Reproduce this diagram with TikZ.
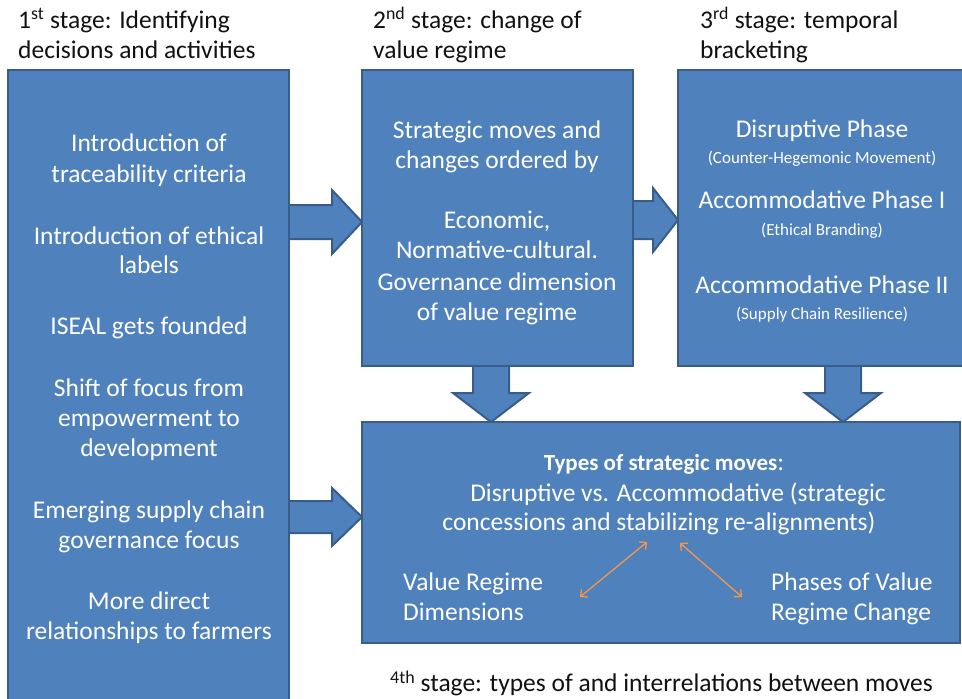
\documentclass[tikz,border=0pt]{standalone}
\usepackage{fontspec}
\setmainfont{Carlito}
\usetikzlibrary{arrows.meta,calc}
\definecolor{panelfill}{HTML}{4F81BD}
\definecolor{panelline}{HTML}{385D8A}
\definecolor{linkorange}{HTML}{F79646}
\definecolor{captiongray}{HTML}{111111}

% horizontal block arrow: start, tip, shaft half-height, head half-height, head length
\newcommand\blockarrowR[5]{%
  \draw[blockarrow] ($(#1)+(0,-#3)$) -- ($(#2)+(-#5,-#3)$) -- ($(#2)+(-#5,-#4)$)
    -- (#2) -- ($(#2)+(-#5,#4)$) -- ($(#2)+(-#5,#3)$) -- ($(#1)+(0,#3)$) -- cycle;}
% vertical block arrow pointing down
\newcommand\blockarrowD[5]{%
  \draw[blockarrow] ($(#1)+(-#3,0)$) -- ($(#2)+(-#3,-#5)$) -- ($(#2)+(-#4,-#5)$)
    -- (#2) -- ($(#2)+(#4,-#5)$) -- ($(#2)+(#3,-#5)$) -- ($(#1)+(#3,0)$) -- cycle;}

\begin{document}
\begin{tikzpicture}[x=1pt,y=-1pt,
  panel/.style={draw=panelline, fill=panelfill, line width=2.4pt, anchor=north west,
    inner sep=0pt, outer sep=0pt},
  blockarrow/.style={draw=panelline, fill=panelfill, line width=2pt, line join=miter},
  wtext/.style={text=white, font=\fontsize{25.5}{30}\selectfont, anchor=mid, inner sep=0pt, yshift=-6pt},
  wsmall/.style={text=white, font=\fontsize{17}{20}\selectfont, anchor=mid, inner sep=0pt, yshift=-5pt},
  heading/.style={text=captiongray, font=\fontsize{25.5}{30}\selectfont, anchor=mid west, inner sep=0pt, yshift=-6pt},
  link/.style={draw=linkorange, line width=1.3pt, {Straight Barb[length=5pt,width=10pt]}-{Straight Barb[length=5pt,width=10pt]}}
]
\useasboundingbox (0,0) rectangle (962,699);
\clip (0,0) rectangle (962,699);

% stage headings
\node[heading] (h1a) at (18,20) {1\textsuperscript{st} stage: Identifying};
\node[heading] (h1b) at (18,50) {decisions and activities};
\node[heading] (h2a) at (373,20) {2\textsuperscript{nd} stage: change of};
\node[heading] (h2b) at (373,50) {value regime};
\node[heading] (h3a) at (700,20) {3\textsuperscript{rd} stage: temporal};
\node[heading] (h3b) at (700,50) {bracketing};
\node[heading] (h4) at (390,683) {{\fontsize{18}{20}\selectfont\raisebox{0.45em}{4th}} stage: types of and interrelations between moves};

% anchor points for the block arrows
\coordinate (a1s) at (287,222);
\coordinate (a1e) at (362,222);
\coordinate (a2s) at (287,517);
\coordinate (a2e) at (362,517);
\coordinate (a3s) at (631,220);
\coordinate (a3e) at (678,220);
\coordinate (d1s) at (491,364);
\coordinate (d1e) at (491,422);
\coordinate (d2s) at (843,364);
\coordinate (d2e) at (843,422);

\blockarrowR{a1s}{a1e}{17}{32}{30}
\blockarrowR{a2s}{a2e}{16}{29}{30}
\blockarrowR{a3s}{a3e}{19}{32}{25}
\blockarrowD{d1s}{d1e}{18}{38}{29}
\blockarrowD{d2s}{d2e}{18}{38}{29}

% the four panels
\node[panel, minimum width=281pt, minimum height=700pt] (stage1) at (8,70) {};
\node[panel, minimum width=271pt, minimum height=296pt] (stage2) at (362,70) {};
\node[panel, minimum width=310pt, minimum height=296pt] (stage3) at (678,70) {};
\node[panel, minimum width=598pt, minimum height=221pt] (stage4) at (362,422) {};

% stage 1 activities
\foreach \t/\y [count=\i] in {Introduction of/143, traceability criteria/174,
    Introduction of ethical/236, labels/265, ISEAL gets founded/326,
    Shift of focus from/388, empowerment to/418, development/448,
    Emerging supply chain/510, governance focus/540,
    More direct/601, relationships to farmers/631}
  \node[wtext] (s1l\i) at (149,\y) {\t};

% stage 2 text
\foreach \t/\y [count=\i] in {Strategic moves and/130, changes ordered by/160,
    {Economic,}/220, Normative-cultural./250, Governance dimension/282,
    of value regime/312}
  \node[wtext] (s2l\i) at (497,\y) {\t};

% stage 3 phases
\node[wtext] (p1) at (822,129) {Disruptive Phase};
\node[wsmall] (p1s) at (822,156) {(Counter-Hegemonic Movement)};
\node[wtext] (p2) at (822,200) {Accommodative Phase I};
\node[wsmall] (p2s) at (822,228) {(Ethical Branding)};
\node[wtext] (p3) at (822,285) {Accommodative Phase II};
\node[wsmall] (p3s) at (822,312) {(Supply Chain Resilience)};

% stage 4 text
\node[wtext] (t1) at (664,462) {{\fontsize{23}{30}\selectfont\textbf{Types of strategic moves}}:};
\node[wtext] (t2) at (678,493) {Disruptive vs. Accommodative (strategic};
\node[wtext] (t3) at (659,522) {concessions and stabilizing re-alignments)};
\node[wtext, anchor=mid west] (vr1) at (403,582) {Value Regime};
\node[wtext, anchor=mid west] (vr2) at (403,612) {Dimensions};
\node[wtext, anchor=mid west] (ph1) at (771,582) {Phases of Value};
\node[wtext, anchor=mid west] (ph2) at (771,612) {Regime Change};

% interrelation arrows
\coordinate (lk1a) at (580,597);
\coordinate (lk1b) at (647,542);
\coordinate (lk2a) at (680,543);
\coordinate (lk2b) at (742,597);
\draw[link] (lk1a) -- (lk1b);
\draw[link] (lk2a) -- (lk2b);
\end{tikzpicture}
\end{document}
